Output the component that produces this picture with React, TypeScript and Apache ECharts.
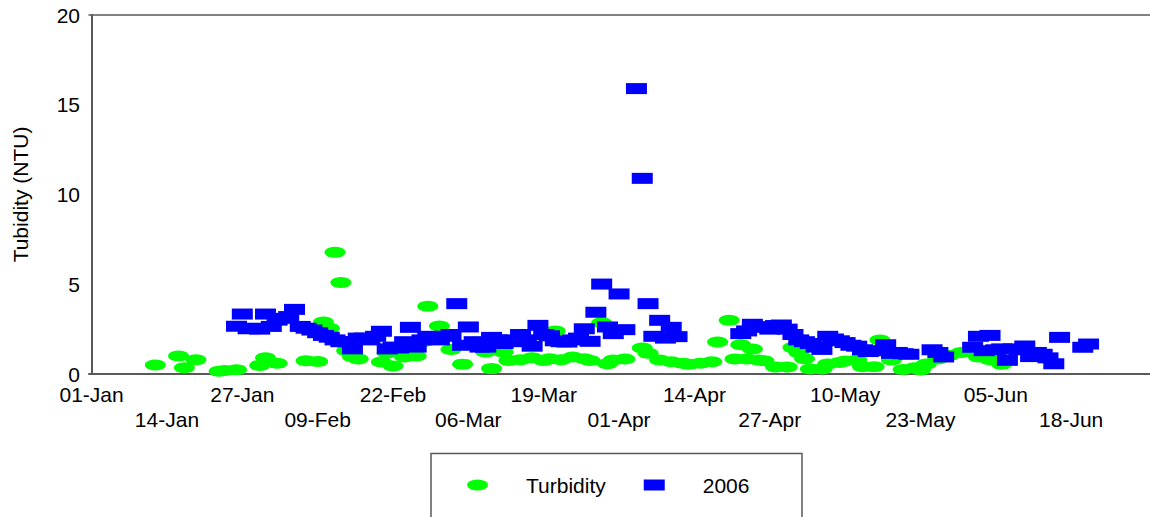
import React, { useEffect, useRef } from "react";
import * as echarts from "echarts";

// Day offsets from 01-Jan (leap-year calendar, 13-day tick spacing)
const tickDays = [0, 13, 26, 39, 52, 65, 78, 91, 104, 117, 130, 143, 156, 169];
const tickLabels = [
  "01-Jan", "14-Jan", "27-Jan", "09-Feb", "22-Feb", "06-Mar", "19-Mar",
  "01-Apr", "14-Apr", "27-Apr", "10-May", "23-May", "05-Jun", "18-Jun",
];

const yTicks = [0, 5, 10, 15, 20];

const turbidityDays = [
  11, 15, 16, 18, 22, 23, 25, 29, 30, 32, 37, 39, 40, 41, 42, 43, 44, 45, 46,
  50, 51, 52, 54, 56, 57, 58, 60, 62, 64, 66, 68, 69, 71, 72, 74, 76, 78, 79,
  80, 81, 83, 85, 86, 88, 89, 90, 92, 95, 96, 98, 100, 102, 103, 105, 107, 108,
  110, 111, 112, 113, 114, 115, 116, 118, 120, 121, 122, 123, 124, 126, 127,
  129, 130, 132, 133, 135, 136, 138, 140, 142, 143, 144, 146, 148, 150, 153,
  155, 157,
];
const turbidityValues = [
  0.5, 1.0, 0.35, 0.8, 0.15, 0.2, 0.24, 0.48, 0.9, 0.6, 0.74, 0.7, 2.9, 2.55,
  6.78, 5.1, 1.3, 0.96, 0.84, 0.67, 1.17, 0.45, 0.95, 1.0, 1.78, 3.77, 2.67,
  1.36, 0.55, 1.78, 1.23, 0.3, 1.23, 0.75, 0.8, 0.9, 0.75, 0.85, 2.4, 0.8,
  0.95, 0.85, 0.75, 2.85, 0.57, 0.78, 0.84, 1.45, 1.15, 0.78, 0.68, 0.6, 0.55,
  0.6, 0.68, 1.78, 3.0, 0.84, 1.63, 0.84, 1.39, 0.78, 0.74, 0.39, 0.39, 1.47,
  1.2, 0.85, 0.28, 0.28, 0.56, 0.64, 0.72, 0.78, 0.41, 0.41, 1.9, 0.78, 0.25,
  0.35, 0.22, 0.56, 0.84, 1.05, 1.2, 0.95, 0.8, 0.55,
];

const y2006Days = [
  25, 26, 27, 28, 29, 30, 31, 32, 33, 34, 35, 36, 37, 38, 39, 40, 41, 42, 43,
  44, 45, 46, 47, 48, 49, 50, 51, 52, 53, 54, 55, 56, 57, 58, 59, 60, 61, 62,
  63, 64, 65, 66, 67, 68, 69, 70, 71, 72, 73, 74, 75, 76, 77, 78, 79, 80, 81,
  82, 83, 84, 85, 86, 87, 88, 89, 90, 91, 92, 94, 95, 96, 97, 98, 99, 100, 101,
  112, 113, 114, 115, 116, 117, 118, 119, 120, 121, 122, 123, 124, 125, 126,
  127, 128, 129, 130, 131, 132, 133, 134, 135, 137, 138, 139, 140, 141, 145,
  146, 147, 152, 153, 154, 155, 156, 157, 158, 159, 160, 161, 162, 163, 164,
  165, 166, 167, 171, 172,
];
const y2006Values = [
  2.66, 3.34, 2.52, 2.55, 2.5, 3.34, 2.65, 3.0, 3.1, 3.2, 3.6, 2.65, 2.55,
  2.45, 2.3, 2.15, 2.05, 1.9, 1.8, 1.8, 1.4, 2.0, 2.0, 1.9, 2.1, 2.38, 1.4,
  1.5, 1.45, 1.8, 2.6, 1.5, 1.9, 2.1, 2.0, 1.9, 2.1, 2.2, 3.92, 1.6, 2.62, 1.8,
  1.5, 1.5, 2.04, 1.9, 1.7, 1.9, 1.8, 2.2, 1.9, 1.55, 2.71, 2.2, 2.13, 1.85,
  1.8, 1.78, 1.9, 2.0, 2.52, 1.82, 3.44, 5.01, 2.62, 2.25, 4.46, 2.47, 15.9,
  10.9, 3.92, 2.1, 2.99, 2.0, 2.6, 2.08, 2.25, 2.4, 2.77, 2.6, 2.64, 2.5, 2.7,
  2.73, 2.5, 2.2, 1.9, 1.8, 1.7, 1.5, 1.37, 2.1, 1.95, 1.85, 1.75, 1.6, 1.55,
  1.35, 1.25, 1.3, 1.63, 1.15, 1.2, 1.13, 1.1, 1.35, 1.2, 0.95, 1.49, 2.1, 1.3,
  2.15, 1.35, 1.4, 0.76, 1.4, 1.35, 1.56, 0.97, 1.2, 1.1, 0.9, 0.57, 2.04,
  1.49, 1.67,
];

const FONT = "'Liberation Sans', Arial, Helvetica, sans-serif";
const AXIS_COLOR = "#595959";
const X_MIN = -0.45;
const X_MAX = 182.6;
const ELLIPSE_ICON = "path://M0,5.5A10.5,5.5 0 1,0 21,5.5A10.5,5.5 0 1,0 0,5.5Z";

export default function App() {
  const ref = useRef<HTMLDivElement>(null);

  useEffect(() => {
    if (!ref.current) return;
    const chart = echarts.init(ref.current, null, { renderer: "svg" });

    const turbidityData = turbidityDays.map((d, i) => [d, turbidityValues[i]]);
    const data2006 = y2006Days.map((d, i) => [d, y2006Values[i]]);

    chart.setOption({
      animation: false,
      backgroundColor: "#ffffff",
      textStyle: { fontFamily: FONT },
      grid: {
        left: 89,
        top: 15,
        bottom: 143,
        right: 0,
        show: false,
        containLabel: false,
      },
      xAxis: [
        {
          type: "value",
          position: "bottom",
          min: X_MIN,
          max: X_MAX,
          axisLine: { show: true, onZero: false, lineStyle: { color: AXIS_COLOR, width: 2 } },
          axisTick: { show: false },
          splitLine: { show: false },
          axisLabel: {
            customValues: tickDays,
            margin: 8,
            fontSize: 21,
            lineHeight: 25,
            color: "#000",
            fontFamily: FONT,
            formatter: (v: number) => {
              const idx = tickDays.indexOf(Math.round(v));
              if (idx < 0) return "";
              return idx % 2 === 1 ? "\n" + tickLabels[idx] : tickLabels[idx];
            },
          },
        },
        {
          type: "value",
          position: "top",
          min: X_MIN,
          max: X_MAX,
          axisLine: { show: true, onZero: false, lineStyle: { color: AXIS_COLOR, width: 1.5 } },
          axisTick: { show: false },
          splitLine: { show: false },
          axisLabel: { show: false },
        },
      ],
      yAxis: {
        type: "value",
        min: yTicks[0],
        max: yTicks[yTicks.length - 1],
        interval: 5,
        name: "Tubidity (NTU)",
        nameLocation: "middle",
        nameGap: 58,
        nameTextStyle: { fontSize: 21, color: "#000", fontFamily: FONT },
        axisLine: { show: true, lineStyle: { color: AXIS_COLOR, width: 2 } },
        axisTick: { show: false },
        splitLine: { show: false },
        axisLabel: { margin: 9, fontSize: 21, color: "#000", fontFamily: FONT },
      },
      legend: {
        data: [
          { name: "Turbidity", icon: ELLIPSE_ICON },
          { name: "2006", icon: "rect" },
        ],
        left: 467,
        top: 473,
        padding: 0,
        itemWidth: 21,
        itemHeight: 11,
        itemGap: 38,
        textStyle: {
          fontSize: 21,
          color: "#000",
          fontFamily: FONT,
          padding: [0, 0, 0, 33],
          lineHeight: 24,
        },
      },
      graphic: [
        {
          type: "rect",
          shape: { x: 431, y: 453.5, width: 371, height: 100 },
          style: { fill: "none", stroke: AXIS_COLOR, lineWidth: 1.5 },
          silent: true,
        },
      ],
      series: [
        {
          name: "Turbidity",
          type: "scatter",
          symbol: "circle",
          symbolSize: [21, 11],
          itemStyle: { color: "#00ff00", opacity: 1 },
          data: turbidityData,
        },
        {
          name: "2006",
          type: "scatter",
          symbol: "rect",
          symbolSize: [21, 11],
          itemStyle: { color: "#0000ff", opacity: 1 },
          data: data2006,
        },
      ],
    });

    return () => chart.dispose();
  }, []);

  return (
    <div
      ref={ref}
      style={{ position: "fixed", left: 0, top: 0, width: 1150, height: 517, background: "#fff" }}
    />
  );
}
